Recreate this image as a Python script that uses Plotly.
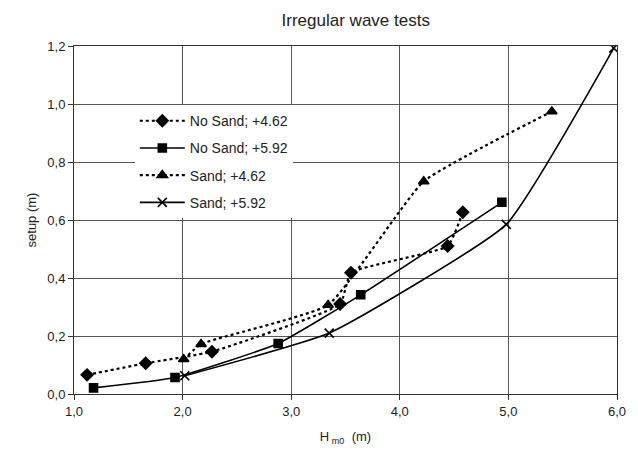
import plotly.graph_objects as go

# Data
ns462_x = [1.12, 1.66, 2.27, 3.45, 3.55, 4.44, 4.58]
ns462_y = [0.066, 0.106, 0.146, 0.31, 0.418, 0.51, 0.627]

ns592_x = [1.18, 1.93, 2.88, 3.64, 4.94]
ns592_y = [0.021, 0.057, 0.174, 0.342, 0.661]

s462_x = [2.01, 2.17, 3.34, 4.22, 5.40]
s462_y = [0.12, 0.172, 0.307, 0.733, 0.974]

s592_x = [2.02, 3.35, 4.98, 5.97]
s592_y = [0.063, 0.21, 0.585, 1.193]

series_names = ["No Sand; +4.62", "No Sand; +5.92", "Sand; +4.62", "Sand; +5.92"]
x_ticks = [1, 2, 3, 4, 5, 6]
y_ticks = [0, 0.2, 0.4, 0.6, 0.8, 1.0, 1.2]

fig = go.Figure()

specs = [
    (ns462_x, ns462_y, "dot", "diamond", 9),
    (ns592_x, ns592_y, "solid", "square", 8),
    (s462_x, s462_y, "dot", "triangle-up", 9),
    (s592_x, s592_y, "solid", "x-thin", 9),
]

for i, (xs, ys, dash, sym, ms) in enumerate(specs):
    fig.add_trace(go.Scatter(
        x=xs, y=ys, name=series_names[i], mode="lines+markers",
        line=dict(color="black", width=1.6 if dash == "solid" else 2.2, dash=dash,
                  shape="spline", smoothing=0.4),
        marker=dict(symbol=sym, size=ms, color="black",
                    line=dict(color="black", width=1.6)),
        legendgroup=f"g{i}",
    ))

fig.update_layout(
    width=630, height=446,
    margin=dict(l=66, r=19, t=38, b=59),
    paper_bgcolor="white", plot_bgcolor="white",
    separators=",.",
    font=dict(family="Liberation Sans, Arial, sans-serif", size=13, color="#222"),
    title=dict(text="Irregular wave tests", x=0.552, xanchor="center", y=0.972,
               yanchor="middle", font=dict(size=17, color="#222")),
    showlegend=True,
    legend=dict(x=0.112, y=0.83, xanchor="left", yanchor="top",
                bgcolor="white", borderwidth=0, traceorder="grouped",
                tracegroupgap=6, itemwidth=45, font=dict(size=14, color="#222")),
    xaxis=dict(range=[1, 6], tickvals=x_ticks, tickformat=".1f",
               showgrid=True, gridcolor="#555", gridwidth=1,
               showline=True, linecolor="#333", linewidth=1, mirror=True,
               ticks="outside", ticklen=5, tickcolor="#333",
               zeroline=False,
               title=dict(text="H<sub> m0</sub>  (m)", standoff=14,
                          font=dict(size=13))),
    yaxis=dict(range=[0, 1.2], tickvals=y_ticks, tickformat=".1f",
               showgrid=True, gridcolor="#555", gridwidth=1,
               showline=True, linecolor="#333", linewidth=1, mirror=True,
               ticks="outside", ticklen=5, tickcolor="#333",
               zeroline=False,
               title=dict(text="setup (m)", standoff=7, font=dict(size=13))),
)

fig.write_html("out.html")
